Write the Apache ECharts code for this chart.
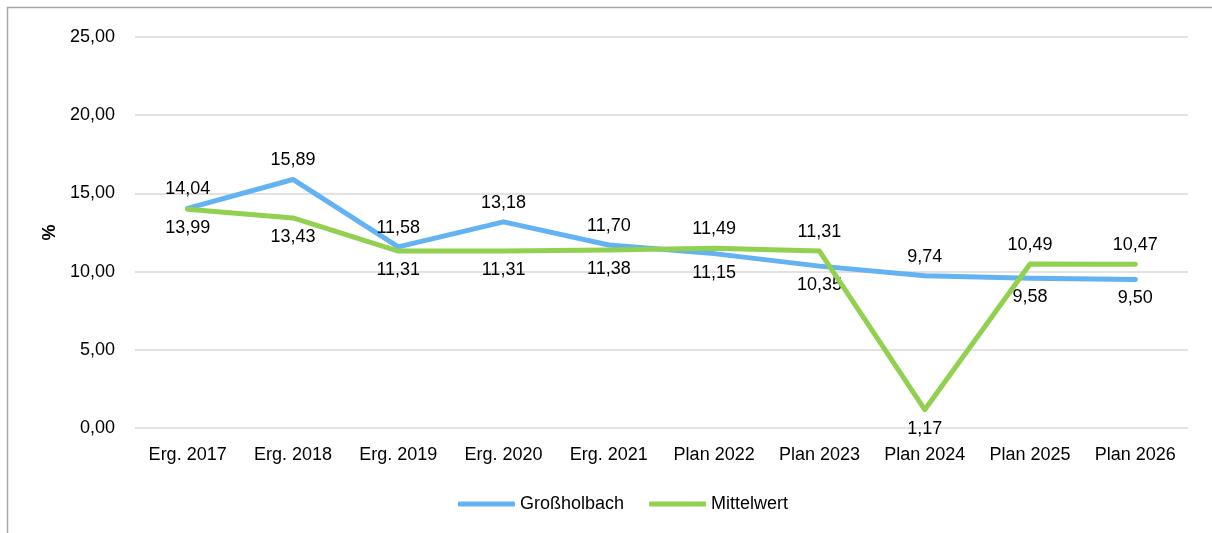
<!DOCTYPE html>
<html>
<head>
<meta charset="utf-8">
<script src="https://cdn.jsdelivr.net/npm/echarts@6/dist/echarts.min.js"></script>
<style>
  * { margin: 0; padding: 0; }
  body { background: #fff; }
</style>
</head>
<body>
<div id="chart" style="width:1212px;height:533px;"></div>
<script>
  var categories = ['Erg. 2017', 'Erg. 2018', 'Erg. 2019', 'Erg. 2020', 'Erg. 2021',
                    'Plan 2022', 'Plan 2023', 'Plan 2024', 'Plan 2025', 'Plan 2026'];
  var grossholbach = [14.04, 15.89, 11.58, 13.18, 11.70, 11.15, 10.35, 9.74, 9.58, 9.50];
  var mittelwert = [13.99, 13.43, 11.31, 11.31, 11.38, 11.49, 11.31, 1.17, 10.49, 10.47];
  var seriesNames = ['Großholbach', 'Mittelwert'];

  var font = "'Liberation Sans', Arial, sans-serif";

  function fmt(v) {
    return v.toFixed(2).replace('.', ',');
  }

  // label above for the higher value, below for the lower one
  function withLabels(own, other) {
    return own.map(function (v, i) {
      return {
        value: v,
        label: { position: v >= other[i] ? 'top' : 'bottom' }
      };
    });
  }

  var myChart = echarts.init(document.getElementById('chart'));
  myChart.setOption({
    animation: false,
    textStyle: { fontFamily: font },
    graphic: [{
      type: 'rect',
      shape: { x: 7.5, y: 7.5, width: 1400, height: 800 },
      style: { fill: 'none', stroke: '#a6a6a6', lineWidth: 1.5 },
      silent: true
    }],
    grid: { left: 135, right: 24, top: 37, bottom: 105 },
    legend: {
      bottom: 15,
      left: 453,
      icon: 'roundRect',
      itemWidth: 57,
      itemHeight: 5,
      itemGap: 25,
      textStyle: { fontFamily: font, fontSize: 18, color: '#000' },
      data: seriesNames
    },
    xAxis: {
      type: 'category',
      data: categories,
      axisLine: { show: false },
      axisTick: { show: false },
      axisLabel: { color: '#000', fontSize: 18, fontFamily: font, margin: 18, interval: 0 }
    },
    yAxis: {
      type: 'value',
      min: 0,
      max: 25,
      interval: 5,
      name: '%',
      nameLocation: 'middle',
      nameGap: 76,
      nameRotate: 90,
      nameTextStyle: { color: '#000', fontSize: 18, fontWeight: 'bold', fontFamily: font },
      axisLine: { show: false },
      axisTick: { show: false },
      splitLine: { lineStyle: { color: '#d9d9d9', width: 1.5 } },
      axisLabel: {
        color: '#000', fontSize: 18, fontFamily: font, margin: 20,
        formatter: function (v) { return fmt(v); }
      }
    },
    series: [{
      name: seriesNames[0],
      type: 'line',
      symbol: 'circle',
      symbolSize: 0,
      showSymbol: true,
      data: withLabels(grossholbach, mittelwert),
      itemStyle: { color: '#63b3f3' },
      lineStyle: { color: '#63b3f3', width: 5, cap: 'round', join: 'round' },
      label: {
        show: true, distance: 10, color: '#000', fontSize: 18, fontFamily: font,
        formatter: function (p) { return fmt(p.value); }
      },
      z: 3
    }, {
      name: seriesNames[1],
      type: 'line',
      symbol: 'circle',
      symbolSize: 0,
      showSymbol: true,
      data: withLabels(mittelwert, grossholbach),
      itemStyle: { color: '#92d050' },
      lineStyle: { color: '#92d050', width: 5, cap: 'round', join: 'round' },
      label: {
        show: true, distance: 10, color: '#000', fontSize: 18, fontFamily: font,
        formatter: function (p) { return fmt(p.value); }
      },
      z: 4
    }]
  });
</script>
</body>
</html>
